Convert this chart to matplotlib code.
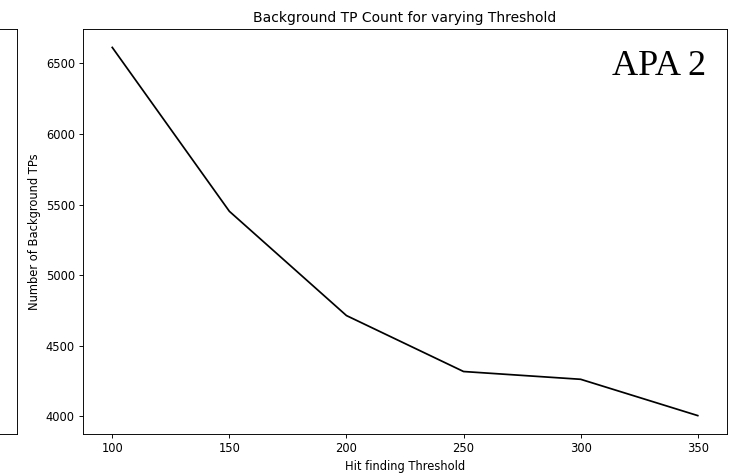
import matplotlib
matplotlib.use("Agg")
import matplotlib.pyplot as plt

thresholds = [100, 150, 200, 250, 300, 350]
bg_tp_counts = [6612, 5452, 4714, 4318, 4263, 4006]

# the original figure looks like a larger one shrunk by ~0.83
s = 0.83
plt.rcParams.update({
    "font.size": 10 * s,
    "axes.linewidth": 0.8 * s,
    "xtick.major.size": 3.5 * s, "ytick.major.size": 3.5 * s,
    "xtick.major.width": 0.8 * s, "ytick.major.width": 0.8 * s,
    "xtick.major.pad": 3.5 * s, "ytick.major.pad": 3.5 * s,
    "axes.labelpad": 4 * s, "axes.titlepad": 6 * s,
})

fig = plt.figure(figsize=(7.39, 4.75), dpi=100)

# neighbouring subplot, cut off at the left edge
ax_left = fig.add_axes([-0.5, 0.0863, 0.523, 0.8526])
ax_left.set_xticks([])
ax_left.set_yticks([])

ax = fig.add_axes([0.1123, 0.0863, 0.8715, 0.8526])
ax.plot(thresholds, bg_tp_counts, color="black", lw=1.5 * s)
ax.set_title("Background TP Count for varying Threshold", fontsize=10)
ax.set_xlabel("Hit finding Threshold")
ax.set_ylabel("Number of Background TPs")
ax.text(0.967, 0.886, "APA 2", transform=ax.transAxes, ha="right", va="baseline",
        family="Liberation Serif", fontsize=26)

fig.savefig("out.png", dpi=100)
